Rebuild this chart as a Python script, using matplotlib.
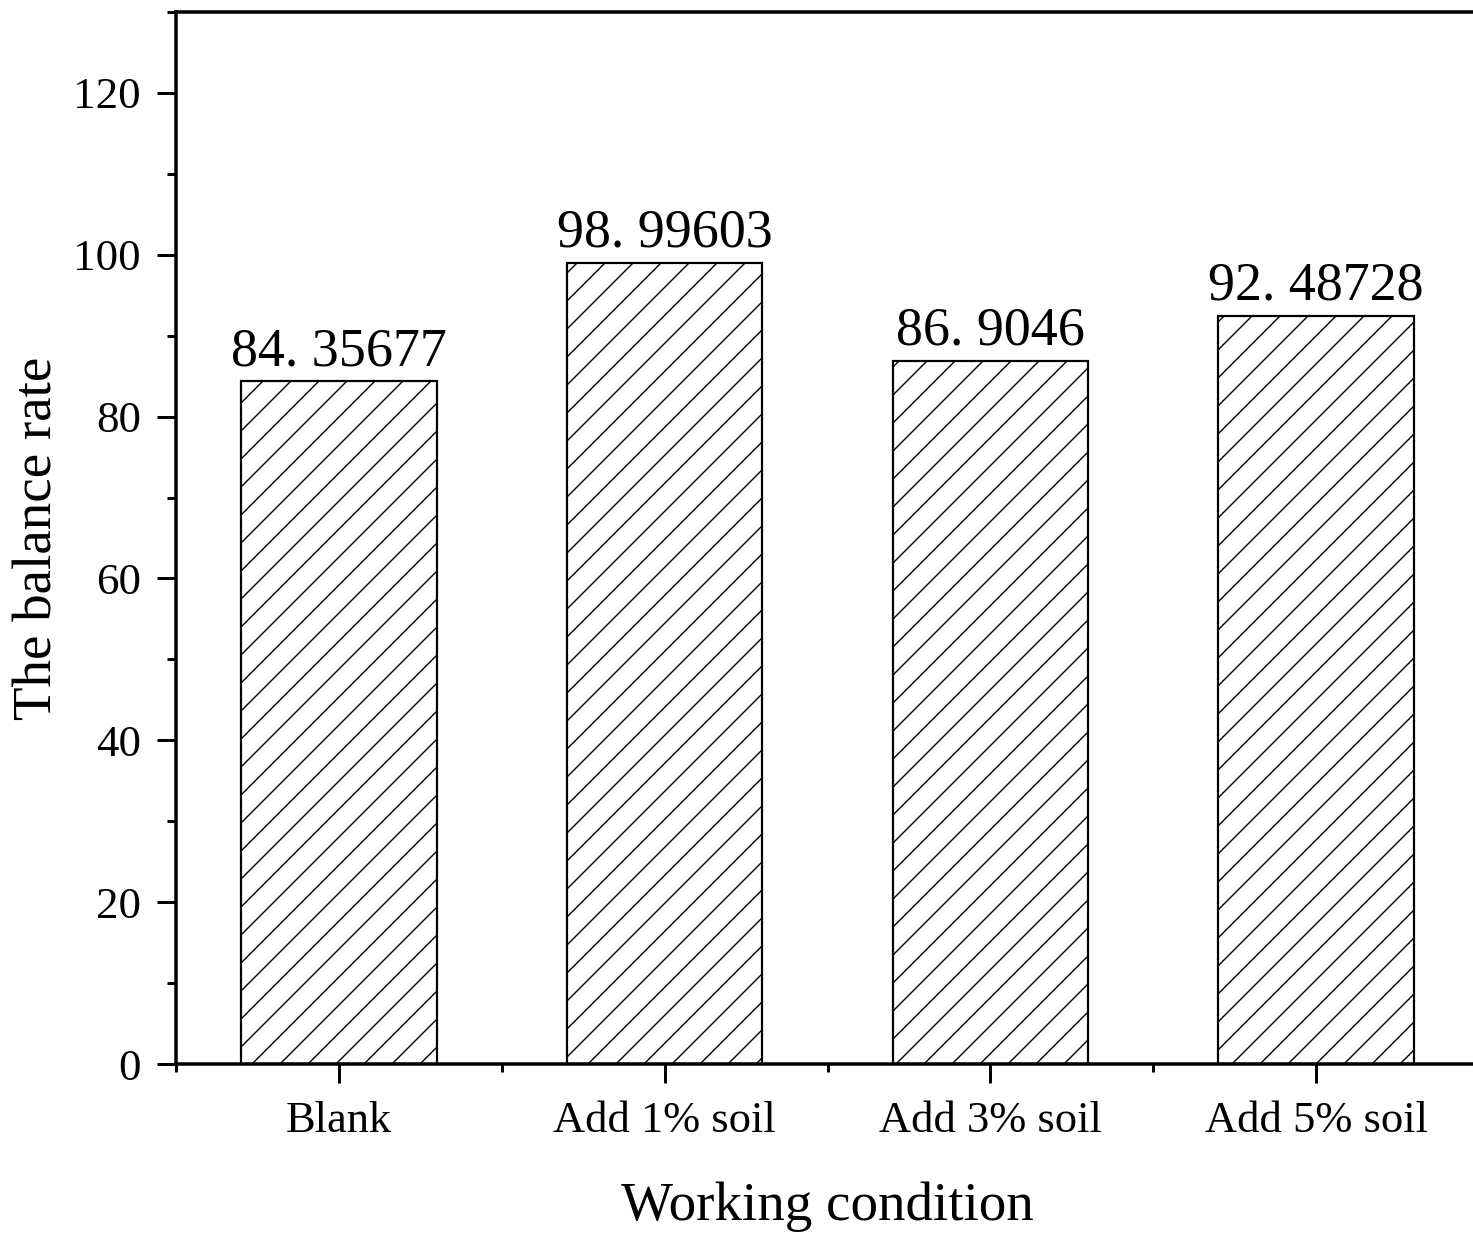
import matplotlib
matplotlib.use("Agg")
import matplotlib.pyplot as plt
from matplotlib.ticker import MultipleLocator, FixedLocator

# data
categories = ["Blank", "Add 1% soil", "Add 3% soil", "Add 5% soil"]
balance_rate = [84.35677, 98.99603, 86.9046, 92.48728]
value_labels = ["84. 35677", "98. 99603", "86. 9046", "92. 48728"]

DPI = 84


def px(p):
    """pixels -> points at the figure dpi"""
    return p * 72.0 / DPI


plt.rcParams["font.family"] = ["Liberation Serif", "DejaVu Serif"]
plt.rcParams["hatch.linewidth"] = px(1.4)

fig = plt.figure(figsize=(1473 / DPI, 1234 / DPI), dpi=DPI)
ax = fig.add_axes([176 / 1473, 1 - 1064 / 1234, 1303 / 1473, 1052 / 1234])

x = list(range(len(categories)))
bars = ax.bar(x, balance_rate, width=0.6, facecolor="white", edgecolor="black",
              linewidth=px(2.2), hatch="/")

for b, lab in zip(bars, value_labels):
    ax.annotate(lab, (b.get_x() + b.get_width() / 2, b.get_height()),
                xytext=(0, px(4)), textcoords="offset points",
                ha="center", va="bottom", fontsize=px(54))

ax.set_xlim(-0.5, 3.5)
ax.set_ylim(0, 130)

ax.set_xticks(x)
ax.set_xticklabels(categories, fontsize=px(44.5))
ax.xaxis.set_minor_locator(FixedLocator([-0.5, 0.5, 1.5, 2.5, 3.5]))
ax.yaxis.set_major_locator(MultipleLocator(20))
ax.yaxis.set_minor_locator(MultipleLocator(10))
ax.tick_params(axis="y", which="major", labelsize=px(45), length=px(19),
               width=px(3), pad=px(16))
ax.tick_params(axis="y", which="minor", length=px(9), width=px(3))
ax.tick_params(axis="x", which="major", length=px(19), width=px(3), pad=px(18))
ax.tick_params(axis="x", which="minor", length=px(8), width=px(3))

for sp in ax.spines.values():
    sp.set_linewidth(px(3.5))

ax.set_xlabel("Working condition", fontsize=px(55), labelpad=px(40))
ax.set_ylabel("The balance rate", fontsize=px(55), labelpad=px(10))

fig.savefig("out.png", dpi=DPI)
